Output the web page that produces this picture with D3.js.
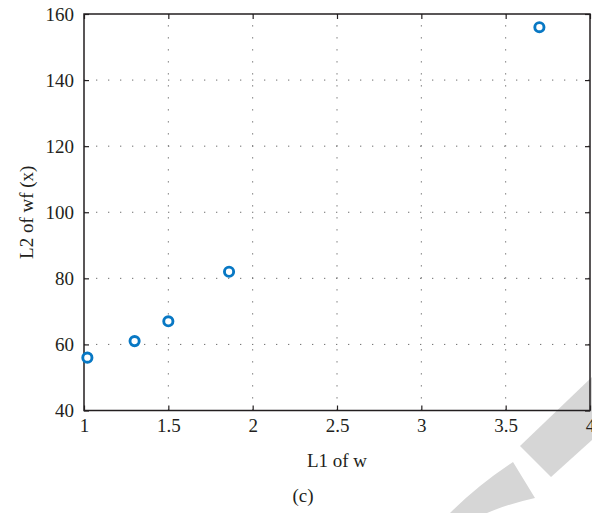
<!DOCTYPE html>
<html>
<head>
<meta charset="utf-8">
<script src="https://cdn.jsdelivr.net/npm/d3@7"></script>
<style>
  html, body { margin: 0; padding: 0; background: #fff; }
  svg { display: block; }
  text { font-family: "Liberation Serif", "DejaVu Serif", serif; fill: #231f20; }
</style>
</head>
<body>
<svg id="chart" width="592" height="513"></svg>
<script>
// L1 norm of w against L2 norm of wf(x)
const l1Values = [1.02, 1.30, 1.50, 1.86, 3.70];
const l2Values = [56, 61, 67, 82, 156];
const xTicks = [1, 1.5, 2, 2.5, 3, 3.5, 4];
const yTicks = [40, 60, 80, 100, 120, 140, 160];
const xTickLabels = ["1", "1.5", "2", "2.5", "3", "3.5", "4"];
const yTickLabels = ["40", "60", "80", "100", "120", "140", "160"];

const svg = d3.select("#chart");
const plotLeft = 84, plotRight = 590, plotTop = 14, plotBottom = 410.5;
const ink = "#231f20";
const fontSize = 19;

const x = d3.scaleLinear().domain([1, 4]).range([plotLeft, plotRight]);
const y = d3.scaleLinear().domain([40, 160]).range([plotBottom, plotTop]);

// background emblem shapes
const emblem = svg.append("g").attr("fill", "#d6d6d6");
emblem.append("path").attr("d", "M592,377 L520,446 L551,477 L592,440 Z");
emblem.append("path").attr("d", "M513,462 Q478,485 450,513 L487,513 Q508,504 535,498 Z");

// dotted grid
const grid = svg.append("g")
  .attr("stroke", "#6d6d6d").attr("stroke-width", 1)
  .attr("stroke-dasharray", "1.3 10.7");
grid.selectAll("line.v").data(xTicks.slice(1, -1)).join("line")
  .attr("x1", d => x(d)).attr("x2", d => x(d))
  .attr("y1", plotBottom).attr("y2", plotTop);
grid.selectAll("line.h").data(yTicks.slice(1, -1)).join("line")
  .attr("x1", plotLeft).attr("x2", plotRight)
  .attr("y1", d => y(d)).attr("y2", d => y(d));

// axes with inward ticks on all four sides
function styleAxis(g) {
  g.select(".domain").remove();
  g.selectAll("line").attr("stroke", ink).attr("stroke-width", 1.2);
  g.selectAll("text").attr("font-size", fontSize).attr("fill", ink);
}
svg.append("g").attr("transform", `translate(0,${plotBottom})`)
  .call(d3.axisBottom(x).tickValues(xTicks).tickFormat((d, i) => xTickLabels[i])
    .tickSizeInner(-5).tickSizeOuter(0).tickPadding(8.5))
  .attr("font-family", null).call(styleAxis);
svg.append("g").attr("transform", `translate(${plotLeft},0)`)
  .call(d3.axisLeft(y).tickValues(yTicks).tickFormat((d, i) => yTickLabels[i])
    .tickSizeInner(-5).tickSizeOuter(0).tickPadding(10))
  .attr("font-family", null).call(styleAxis);
svg.append("g").attr("transform", `translate(0,${plotTop})`)
  .call(d3.axisTop(x).tickValues(xTicks).tickFormat("").tickSizeInner(-5).tickSizeOuter(0))
  .call(styleAxis);
svg.append("g").attr("transform", `translate(${plotRight},0)`)
  .call(d3.axisRight(y).tickValues(yTicks).tickFormat("").tickSizeInner(-5).tickSizeOuter(0))
  .call(styleAxis);

// frame
svg.append("rect")
  .attr("x", plotLeft).attr("y", plotTop)
  .attr("width", plotRight - plotLeft).attr("height", plotBottom - plotTop)
  .attr("fill", "none").attr("stroke", ink).attr("stroke-width", 1.5);

// data markers
svg.append("g").selectAll("circle")
  .data(l1Values.map((v, i) => [v, l2Values[i]]))
  .join("circle")
  .attr("cx", d => x(d[0])).attr("cy", d => y(d[1]))
  .attr("r", 4.6)
  .attr("fill", "#fff").attr("stroke", "#0878c4").attr("stroke-width", 2.9);

// labels
svg.append("text").attr("x", (plotLeft + plotRight) / 2).attr("y", 467)
  .attr("text-anchor", "middle").attr("font-size", fontSize).text("L1 of w");
svg.append("text").attr("transform", `translate(33,${(plotTop + plotBottom) / 2}) rotate(-90)`)
  .attr("text-anchor", "middle").attr("font-size", fontSize).text("L2 of wf (x)");
svg.append("text").attr("x", 303).attr("y", 502)
  .attr("text-anchor", "middle").attr("font-size", fontSize).text("(c)");
</script>
</body>
</html>
